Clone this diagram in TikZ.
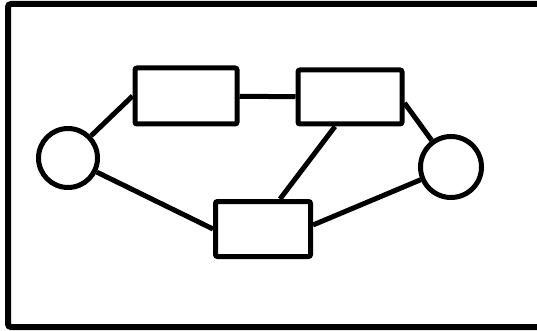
\documentclass[tikz,border=0pt]{standalone}
\usetikzlibrary{positioning}

\begin{document}
\begin{tikzpicture}[
  x=1pt, y=-1pt,
  frame/.style={draw=black, line width=6pt, rounded corners=3pt},
  box/.style={draw=black, line width=5pt, rounded corners=2pt, inner sep=0pt},
  place/.style={circle, draw=black, line width=5pt, inner sep=0pt},
  link/.style={draw=black, line width=5pt}
]

% Page size and outer frame (runs off the right edge)
\useasboundingbox (0,0) rectangle (537,331);
\clip (0,0) rectangle (537,331);
\draw[frame] (8,4) rectangle (570,327);

% Circles
\node[place, minimum size=59pt] (left) at (68,158) {};
\node[place, minimum size=61pt] (right) at (451,167) {};

% Boxes
\node[box, minimum width=102pt, minimum height=56pt] (topL) at (186,96) {};
\node[box, minimum width=104pt, minimum height=54pt] (topR) at (350,97) {};
\node[box, minimum width=95pt, minimum height=55pt] (bottom) at (263,229) {};

% Links
\draw[link] (left) -- (topL.west);
\draw[link] (left) -- (bottom.west);
\draw[link] (topL) -- (topR);
\draw[link] ([xshift=-15pt]topR.south) -- ([xshift=17pt]bottom.north);
\draw[link] ([yshift=-6pt]topR.east) -- (right);
\draw[link] (right) -- ([yshift=4pt]bottom.east);

\end{tikzpicture}
\end{document}
